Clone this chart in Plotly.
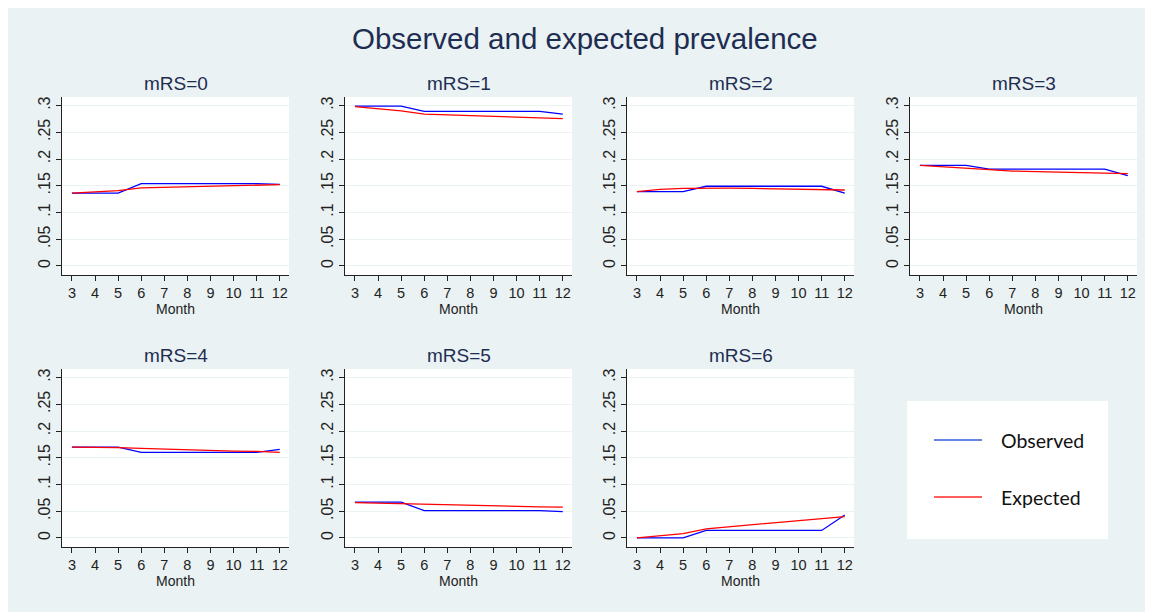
import plotly.graph_objects as go

months = [3, 4, 5, 6, 7, 8, 9, 10, 11, 12]
panel_titles = ["mRS=0", "mRS=1", "mRS=2", "mRS=3", "mRS=4", "mRS=5", "mRS=6"]

observed_0 = [0.136, 0.136, 0.136, 0.154, 0.154, 0.154, 0.154, 0.154, 0.154, 0.1525]
expected_0 = [0.136, 0.139, 0.141, 0.146, 0.147, 0.148, 0.149, 0.150, 0.1505, 0.152]
observed_1 = [0.299, 0.299, 0.299, 0.289, 0.289, 0.289, 0.289, 0.289, 0.289, 0.284]
expected_1 = [0.298, 0.294, 0.290, 0.284, 0.2825, 0.281, 0.279, 0.278, 0.276, 0.2755]
observed_2 = [0.139, 0.139, 0.139, 0.149, 0.149, 0.149, 0.149, 0.149, 0.149, 0.136]
expected_2 = [0.139, 0.143, 0.145, 0.1455, 0.1455, 0.145, 0.1445, 0.144, 0.1425, 0.142]
observed_3 = [0.188, 0.188, 0.188, 0.181, 0.181, 0.181, 0.181, 0.181, 0.181, 0.169]
expected_3 = [0.188, 0.185, 0.1825, 0.180, 0.1775, 0.177, 0.1755, 0.1745, 0.173, 0.1725]
observed_4 = [0.170, 0.170, 0.170, 0.160, 0.160, 0.160, 0.160, 0.160, 0.160, 0.1655]
expected_4 = [0.170, 0.170, 0.169, 0.1675, 0.166, 0.165, 0.164, 0.1625, 0.162, 0.160]
observed_5 = [0.067, 0.067, 0.067, 0.051, 0.051, 0.051, 0.051, 0.051, 0.051, 0.049]
expected_5 = [0.066, 0.065, 0.064, 0.0625, 0.061, 0.060, 0.059, 0.0588, 0.058, 0.0575]
observed_6 = [0.000, 0.000, 0.000, 0.014, 0.014, 0.014, 0.014, 0.014, 0.014, 0.043]
expected_6 = [0.000, 0.004, 0.008, 0.017, 0.021, 0.025, 0.029, 0.033, 0.037, 0.040]

observed = [observed_0, observed_1, observed_2, observed_3, observed_4, observed_5, observed_6]
expected = [expected_0, expected_1, expected_2, expected_3, expected_4, expected_5, expected_6]

y_tickvals = [0, 0.05, 0.1, 0.15, 0.2, 0.25, 0.3]
y_ticktext = ["0", ".05", ".1", ".15", ".2", ".25", ".3"]
series_names = ["Observed", "Expected"]

OFF = 8  # page body margin
W, H = 1153 - OFF, 612 - OFF
BG = "#EAF2F3"
NAVY = "#1E2D52"
BLUE = "#0000FF"
RED = "#FF0000"
FONT = "Liberation Sans, Arial, sans-serif"


def px(v):
    return (v - OFF) / W


def py(v):
    return 1 - (v - OFF) / H


col_px = [(62, 289), (345, 572), (627, 854), (910, 1137)]
row_px = [(97, 275), (369, 547)]

fig = go.Figure()
layout = dict(
    width=W, height=H,
    paper_bgcolor=BG, plot_bgcolor="white",
    margin=dict(l=0, r=0, t=0, b=0),
    showlegend=False,
    font=dict(family=FONT, color="#222222"),
)
annotations = []
shapes = []

for i in range(7):
    r, c = divmod(i, 4)
    x0, x1 = col_px[c]
    y0, y1 = row_px[r]
    xd = [px(x0), px(x1)]
    yd = [py(y1), py(y0)]
    k = "" if i == 0 else str(i + 1)
    xa, ya = "x" + k, "y" + k
    fig.add_trace(go.Scatter(x=months, y=observed[i], mode="lines", name=series_names[0],
                             line=dict(color=BLUE, width=1.3), xaxis=xa, yaxis=ya))
    fig.add_trace(go.Scatter(x=months, y=expected[i], mode="lines", name=series_names[1],
                             line=dict(color=RED, width=1.3), xaxis=xa, yaxis=ya))
    layout["xaxis" + k] = dict(
        domain=xd, anchor=ya, range=[2.57, 12.4],
        tickvals=months, ticks="outside", ticklen=5, tickcolor="#222",
        showline=True, linecolor="#222", linewidth=1, showgrid=False, zeroline=False,
        tickfont=dict(size=14.5, color="#222"),
        title=dict(text="Month", font=dict(size=14, color="#222"), standoff=0),
    )
    layout["yaxis" + k] = dict(
        domain=yd, anchor=xa, range=[-0.017, 0.316],
        tickvals=y_tickvals, ticktext=y_ticktext, tickangle=-90,
        ticks="outside", ticklen=5, tickcolor="#222",
        showline=True, linecolor="#222", linewidth=1,
        showgrid=True, gridcolor=BG, gridwidth=1, zeroline=False,
        tickfont=dict(size=16, color="#222"),
    )
    annotations.append(dict(
        text=panel_titles[i], x=(xd[0] + xd[1]) / 2, y=py(y0 - 13),
        xref="paper", yref="paper", showarrow=False, xanchor="center", yanchor="middle",
        font=dict(size=19, color=NAVY),
    ))

annotations.append(dict(
    text="Observed and expected prevalence", x=px(585), y=py(38),
    xref="paper", yref="paper", showarrow=False, xanchor="center", yanchor="middle",
    font=dict(size=29.5, color=NAVY),
))

# legend box
shapes.append(dict(type="rect", xref="paper", yref="paper",
                   x0=px(907), x1=px(1108), y0=py(539), y1=py(401),
                   fillcolor="white", line=dict(width=0), layer="below"))
for name, color, yy in [(series_names[0], "#2F5FD8", 440), (series_names[1], "#FF2A2A", 497)]:
    shapes.append(dict(type="line", xref="paper", yref="paper",
                       x0=px(934), x1=px(982), y0=py(yy), y1=py(yy),
                       line=dict(color=color, width=1.5)))
    annotations.append(dict(text=name, x=px(999), y=py(yy), xref="paper", yref="paper",
                            showarrow=False, xanchor="left", yanchor="middle",
                            font=dict(size=19.5, color="#111", family="Lato, Open Sans, sans-serif")))

layout["annotations"] = annotations
layout["shapes"] = shapes
fig.update_layout(**layout)
fig.write_html("out.html")
